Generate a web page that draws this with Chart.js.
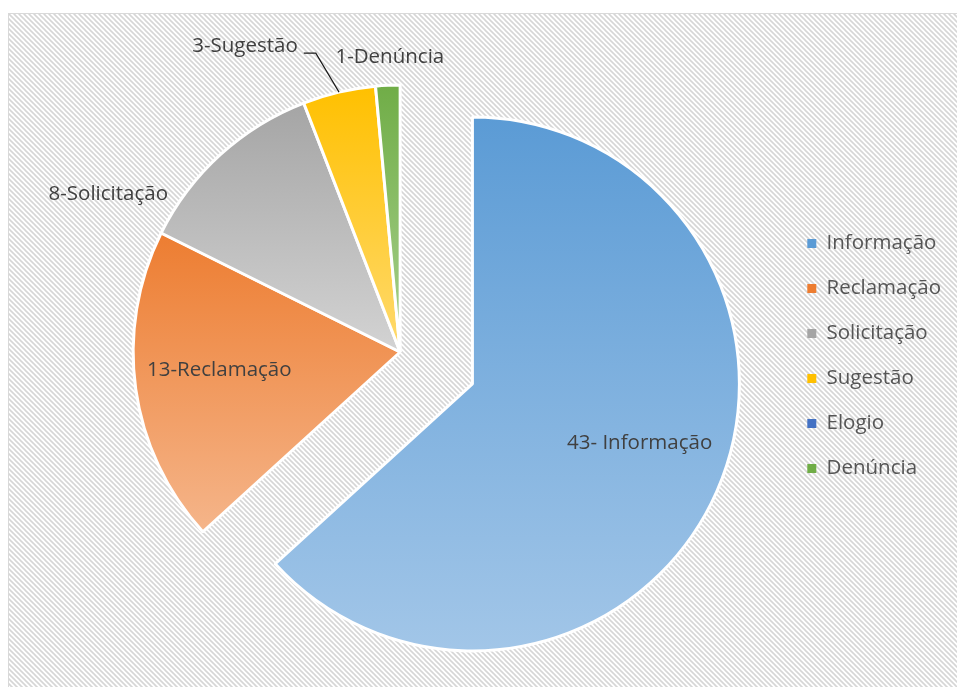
<!DOCTYPE html>
<html>
<head>
<meta charset="utf-8">
<script src="https://cdn.jsdelivr.net/npm/chart.js@4/dist/chart.umd.min.js"></script>
<style>
  html, body { margin: 0; padding: 0; background: #fff; }
  #wrap { width: 957px; height: 687px; }
</style>
</head>
<body>
<div id="wrap"><canvas id="pie"></canvas></div>
<script>
// ---- data ----
const categories = ["Informação", "Reclamação", "Solicitação", "Sugestão", "Elogio", "Denúncia"];
const counts = [43, 13, 8, 3, 0, 1];
const sliceLabels = ["43- Informação", "13-Reclamação", "8-Solicitação", "3-Sugestão", "", "1-Denúncia"];

// Office-like colours, top of slice -> bottom of slice
const topColors = ["#5b9bd5", "#ed7d31", "#a5a5a5", "#ffc000", "#4472c4", "#70ad47"];
const bottomColors = ["#a2c6e8", "#f5b58a", "#d3d3d3", "#ffda6e", "#8faadc", "#a9d18e"];
const explode = [79, 0, 0, 0, 0, 0];   // px the slice is pulled out along its bisector

// label placement: fraction of radius along the bisector + nudge in px
const labelPlace = [
  { r: 0.66, dx: 6, dy: -12 },
  { r: 0.68, dx: -1, dy: -7 },
  { r: 1.0, dx: -112, dy: 39 },
  { r: 1.0, dx: -94, dy: -46, leader: true },
  null,
  { r: 1.0, dx: 2, dy: -28 }
];

const FONT = "'Open Sans', 'DejaVu Sans', sans-serif";
const FONT_SIZE = 20.5;

// ---- helpers ----
function sliceFill(ctx) {
  const i = ctx.dataIndex;
  const el = ctx.element;
  if (!el || !el.outerRadius) return topColors[i];
  const { y, startAngle, endAngle, outerRadius } = el;
  const circ = endAngle - startAngle;
  let top = y, bottom = y;
  for (let k = 0; k <= 60; k++) {
    const a = startAngle + circ * k / 60;
    const py = y + Math.sin(a) * outerRadius;
    top = Math.min(top, py);
    bottom = Math.max(bottom, py);
  }
  if (bottom - top < 1) return topColors[i];
  const g = ctx.chart.ctx.createLinearGradient(0, top, 0, bottom);
  g.addColorStop(0, topColors[i]);
  g.addColorStop(1, bottomColors[i]);
  return g;
}

function makeHatch() {
  const p = 5;
  const tile = document.createElement("canvas");
  tile.width = p; tile.height = p;
  const t = tile.getContext("2d");
  t.fillStyle = "#ffffff";
  t.fillRect(0, 0, p, p);
  t.strokeStyle = "#d6d6d6";
  t.lineWidth = 1.6;
  for (const off of [-p, 0, p]) {
    t.beginPath();
    t.moveTo(off - 1, -1);
    t.lineTo(off + p + 1, p + 1);
    t.stroke();
  }
  return tile;
}

function midAngle(arc) {
  return (arc.startAngle + arc.endAngle) / 2;
}

const backgroundPlugin = {
  id: "bgHatch",
  beforeDraw(chart) {
    const c = chart.ctx;
    const w = chart.width, h = chart.height;
    c.save();
    c.fillStyle = "#ffffff";
    c.fillRect(0, 0, w, h);
    c.fillStyle = c.createPattern(makeHatch(), "repeat");
    c.fillRect(8, 13, w - 8, h - 13);
    c.strokeStyle = "#d9d9d9";
    c.lineWidth = 1;
    c.beginPath();
    c.moveTo(8.5, h);
    c.lineTo(8.5, 13.5);
    c.lineTo(w, 13.5);
    c.stroke();
    c.restore();
  }
};

// pull slices out without growing them (Chart.js offset also enlarges big slices)
const explodePlugin = {
  id: "explode",
  beforeDatasetsDraw(chart) {
    chart.getDatasetMeta(0).data.forEach((arc, i) => {
      if (!explode[i] || arc._exploded) return;
      const orig = arc.draw;
      arc.draw = function (ctx) {
        const m = midAngle(this);
        ctx.save();
        ctx.translate(Math.cos(m) * explode[i], Math.sin(m) * explode[i]);
        orig.call(this, ctx);
        ctx.restore();
      };
      arc._exploded = true;
    });
  }
};

const sliceLabelPlugin = {
  id: "sliceLabels",
  afterDatasetsDraw(chart) {
    const c = chart.ctx;
    const arcs = chart.getDatasetMeta(0).data;
    c.save();
    c.font = FONT_SIZE + "px " + FONT;
    c.fillStyle = "#404040";
    c.textAlign = "center";
    c.textBaseline = "middle";
    arcs.forEach((arc, i) => {
      const place = labelPlace[i];
      if (!place || !sliceLabels[i]) return;
      const { x, y, outerRadius } = arc;
      const mid = midAngle(arc);
      const cx = x + Math.cos(mid) * explode[i];
      const cy = y + Math.sin(mid) * explode[i];
      const lx = cx + Math.cos(mid) * outerRadius * place.r + place.dx;
      const ly = cy + Math.sin(mid) * outerRadius * place.r + place.dy;
      c.fillText(sliceLabels[i], lx, ly);
      if (place.leader) {
        const w = c.measureText(sliceLabels[i]).width;
        const ex = cx + Math.cos(mid) * outerRadius;
        const ey = cy + Math.sin(mid) * outerRadius;
        c.save();
        c.strokeStyle = "#1a1a1a";
        c.lineWidth = 1.2;
        c.beginPath();
        c.moveTo(lx + w / 2 + 6, ly + 7);
        c.lineTo(lx + w / 2 + 18, ly + 7);
        c.lineTo(ex, ey);
        c.stroke();
        c.restore();
      }
    });
    c.restore();
  }
};

// ---- chart ----
const chart = new Chart(document.getElementById("pie"), {
  type: "pie",
  data: {
    labels: categories,
    datasets: [{
      data: counts,
      backgroundColor: sliceFill,
      borderColor: "#ffffff",
      borderWidth: 3
    }]
  },
  options: {
    responsive: true,
    maintainAspectRatio: false,
    animation: false,
    events: [],
    radius: 267,
    layout: { padding: { left: 17.5, right: 6, top: 17, bottom: 0 } },
    plugins: {
      tooltip: { enabled: false },
      legend: {
        position: "right",
        align: "center",
        title: { display: true, text: "", padding: 0, font: { size: 6.67 } },
        labels: {
          boxWidth: 9,
          boxHeight: 9,
          padding: 24.5,
          color: "#555555",
          font: { family: FONT, size: FONT_SIZE },
          generateLabels(ch) {
            const items = Chart.overrides.pie.plugins.legend.labels.generateLabels(ch);
            return items.map((it, i) => Object.assign(it, {
              fillStyle: topColors[i],
              strokeStyle: "#ffffff",
              lineWidth: 0
            }));
          }
        }
      }
    }
  },
  plugins: [backgroundPlugin, explodePlugin, sliceLabelPlugin]
});
// second pass so the per-slice gradients can use the arc geometry
chart.update("none");
</script>
</body>
</html>
